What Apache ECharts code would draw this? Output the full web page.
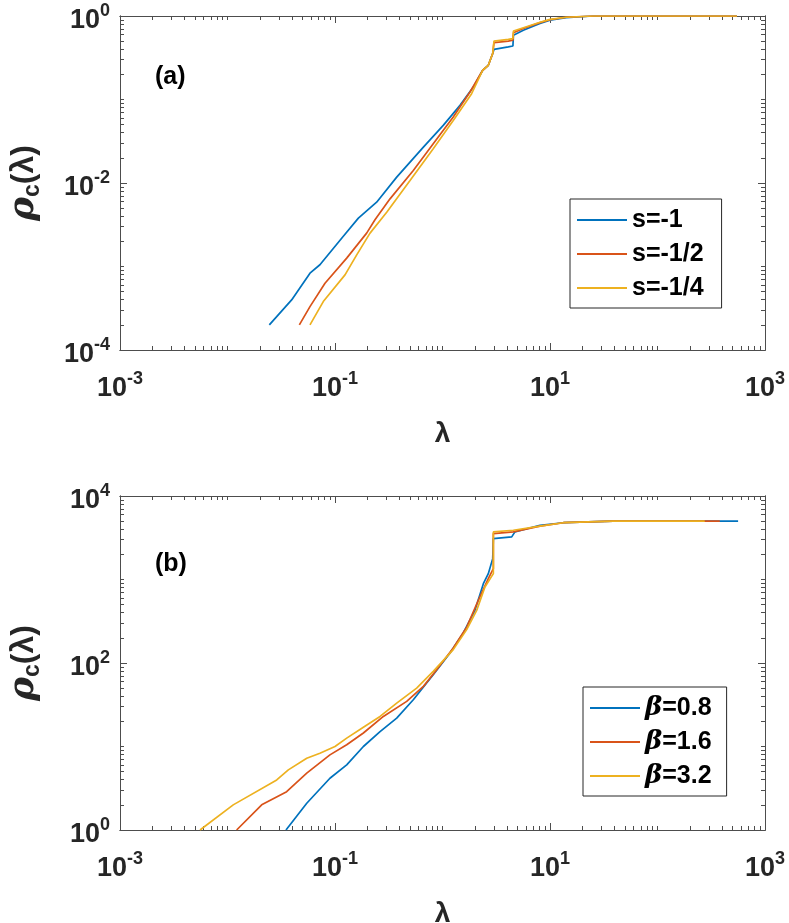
<!DOCTYPE html>
<html>
<head>
<meta charset="UTF-8">
<title>rho_c(lambda)</title>
<script src="https://cdn.jsdelivr.net/npm/echarts@6/dist/echarts.min.js"></script>
<style>
  html, body { margin: 0; padding: 0; background: #fff; }
  #chart { width: 789px; height: 923px; }
</style>
</head>
<body>
<div id="chart"></div>
<script>
// panel (a), s = -1, -1/2, -1/4
var lamA1 = [0.0245, 0.0395, 0.0585, 0.0724, 0.119, 0.165, 0.244, 0.375, 0.664, 1.016, 1.455, 1.936, 2.366, 2.667, 2.931, 2.985, 3.013, 4.093, 4.519, 4.571, 5.649, 8.072, 10, 14.13, 25.1, 549.5];
var rhoA1 = [2.0e-4, 3.98e-4, 8.32e-4, 1.05e-3, 2.29e-3, 3.8e-3, 5.89e-3, 1.175e-2, 2.69e-2, 4.9e-2, 8.51e-2, 0.141, 0.224, 0.257, 0.355, 0.355, 0.398, 0.427, 0.437, 0.589, 0.676, 0.813, 0.891, 0.955, 1, 1];
var lamA2 = [0.0466, 0.0585, 0.0807, 0.1285, 0.197, 0.2355, 0.325, 0.535, 0.820, 1.259, 1.803, 2.366, 2.667, 2.931, 2.985, 3.013, 4.093, 4.519, 4.571, 5.649, 8.072, 10, 14.13, 25.1, 549.5];
var rhoA2 = [2.0e-4, 3.31e-4, 6.31e-4, 1.26e-3, 2.51e-3, 3.63e-3, 6.46e-3, 1.41e-2, 2.95e-2, 6.17e-2, 0.123, 0.224, 0.257, 0.355, 0.355, 0.479, 0.501, 0.513, 0.631, 0.708, 0.832, 0.902, 0.966, 1, 1];
var lamA3 = [0.0585, 0.0778, 0.1239, 0.1592, 0.2118, 0.3027, 0.4989, 0.820, 1.259, 1.866, 2.366, 2.667, 2.931, 2.985, 3.013, 4.093, 4.519, 4.571, 5.649, 8.072, 10, 14.13, 25.1, 549.5];
var rhoA3 = [2.0e-4, 3.8e-4, 7.94e-4, 1.38e-3, 2.51e-3, 4.47e-3, 1.07e-2, 2.57e-2, 5.62e-2, 0.1175, 0.224, 0.257, 0.355, 0.355, 0.501, 0.525, 0.537, 0.661, 0.724, 0.841, 0.912, 0.966, 1, 1];

// panel (b), beta = 0.8, 1.6, 3.2
var lamB1 = [0.035, 0.0546, 0.0897, 0.1285, 0.1837, 0.2624, 0.375, 0.535, 0.820, 1.175, 1.560, 2.004, 2.399, 2.667, 2.931, 2.972, 2.972, 4.406, 4.721, 8.072, 13.3, 38.8, 562];
var rhoB1 = [1, 2.09, 4.17, 6.03, 10, 15.1, 21.9, 36.3, 72.4, 131.8, 229, 427, 891, 1175, 1778, 1778, 3090, 3236, 3715, 4467, 4786, 5012, 5012];
var lamB2 = [0.01216, 0.0208, 0.0355, 0.0546, 0.0897, 0.1285, 0.1837, 0.2818, 0.4645, 0.664, 0.883, 1.259, 1.679, 2.153, 2.667, 2.972, 2.972, 4.560, 8.072, 13.3, 38.8, 380];
var rhoB2 = [1, 2.0, 2.88, 4.79, 7.94, 10.5, 14.5, 22.9, 34.7, 52.5, 83.2, 151, 269, 562, 1023, 1349, 3548, 3715, 4365, 4786, 5012, 5012];
var lamB3 = [0.00555, 0.0113, 0.0287, 0.0368, 0.0546, 0.0724, 0.1, 0.1285, 0.1837, 0.2624, 0.375, 0.575, 0.820, 1.259, 1.679, 2.080, 2.483, 2.972, 2.972, 4.560, 8.072, 13.3, 38.8, 275];
var rhoB3 = [1, 2.0, 3.98, 5.25, 7.24, 8.32, 10, 12.6, 17.0, 22.9, 33.1, 50.1, 79.4, 144.5, 251, 427, 813, 1175, 3715, 3890, 4365, 4786, 5012, 5012];

var namesA = ['s=-1', 's=-1/2', 's=-1/4'];
var namesB = ['β=0.8', 'β=1.6', 'β=3.2'];
var colors = ['#0072BD', '#D95319', '#EDB120'];

// labelled ticks
var xLabelVals = [1e-3, 1e-1, 1e1, 1e3];
var yLabelValsA = [1e-4, 1e-2, 1];
var yLabelValsB = [1, 1e2, 1e4];

var FONT = 'Liberation Sans, Arial, Helvetica, sans-serif';
var AX = '#4d4d4d';
var TXT = '#262626';

function pairs(x, y) {
  return x.map(function (v, i) { return [v, y[i]]; });
}

// short ticks at k*10^e that carry no label
function minorTicks(lo, hi, skip) {
  var out = [];
  for (var e = lo; e <= hi; e++) {
    for (var k = 1; k <= 9; k++) {
      if (e === hi && k > 1) break;
      var v = k * Math.pow(10, e);
      var isMajor = skip.some(function (s) { return Math.abs(Math.log10(s) - Math.log10(v)) < 1e-9; });
      if (!isMajor) out.push(v);
    }
  }
  return out;
}

var richLab = {
  b: { fontSize: 27, fontWeight: 'bold', color: TXT, fontFamily: FONT, lineHeight: 38 },
  s: { fontSize: 18, fontWeight: 'bold', color: TXT, fontFamily: FONT, lineHeight: 17, verticalAlign: 'top' }
};
function powLabel(v) {
  var e = Math.round(Math.log10(v));
  return '{b|10}{s|' + e + '}';
}

function makeX(g) {
  var minor = minorTicks(-3, 3, xLabelVals);
  var common = function (pos, major) {
    return {
      type: 'log', logBase: 10, min: 1e-3, max: 1e3, gridIndex: g, position: pos,
      axisLine: { show: true, onZero: false, lineStyle: { color: AX, width: 1 } },
      splitLine: { show: false },
      axisTick: { show: true, inside: true, length: major ? 7 : 4, customValues: major ? xLabelVals : minor, lineStyle: { color: AX, width: 1 } },
      axisLabel: { show: false }
    };
  };
  var main = common('bottom', true);
  main.axisLabel = { show: true, customValues: xLabelVals, formatter: powLabel, rich: richLab, margin: 20 };
  main.name = 'λ';
  main.nameLocation = 'middle';
  main.nameGap = 70;
  main.nameTextStyle = { fontSize: 28, fontWeight: 'bold', color: TXT, fontFamily: FONT };
  return [main, common('bottom', false), common('top', true), common('top', false)];
}

function makeY(g, lo, hi, labels) {
  var minor = minorTicks(lo, hi, labels);
  var common = function (pos, major) {
    return {
      type: 'log', logBase: 10, min: Math.pow(10, lo), max: Math.pow(10, hi), gridIndex: g, position: pos,
      axisLine: { show: true, onZero: false, lineStyle: { color: AX, width: 1 } },
      splitLine: { show: false },
      axisTick: { show: true, inside: true, length: major ? 7 : 4, customValues: major ? labels : minor, lineStyle: { color: AX, width: 1 } },
      axisLabel: { show: false }
    };
  };
  var main = common('left', true);
  main.axisLabel = { show: true, customValues: labels, formatter: powLabel, rich: richLab, margin: 10, padding: [10, 0, 0, 0] };
  main.name = '{r|ρ}{c|c}{p|(λ)}';
  main.nameLocation = 'middle';
  main.nameGap = 76;
  main.nameRotate = 90;
  main.nameTextStyle = {
    rich: {
      r: { fontSize: 36, fontStyle: 'italic', fontWeight: 'bold', color: TXT, fontFamily: 'DejaVu Serif, serif', lineHeight: 40 },
      c: { fontSize: 23, fontWeight: 'bold', color: TXT, fontFamily: FONT, lineHeight: 22, verticalAlign: 'bottom' },
      p: { fontSize: 32, fontWeight: 'bold', color: TXT, fontFamily: FONT, lineHeight: 40 }
    }
  };
  return [main, common('left', false), common('right', true), common('right', false)];
}

function lineSeries(name, data, color, g) {
  return {
    name: name, type: 'line', data: data,
    xAxisIndex: g * 4, yAxisIndex: g * 4,
    symbol: 'none', showSymbol: false,
    lineStyle: { color: color, width: 1.7 },
    itemStyle: { color: color },
    clip: true
  };
}

var legendBase = {
  orient: 'vertical', itemGap: 8, itemWidth: 50, itemHeight: 2, icon: 'rect',
  borderColor: '#262626', borderWidth: 1, backgroundColor: '#fff',
  textStyle: { fontSize: 25, fontWeight: 'bold', color: '#000', fontFamily: FONT, lineHeight: 26 }
};

var option = {
  animation: false,
  backgroundColor: '#fff',
  grid: [
    { left: 120, width: 645, top: 16, height: 334, outerBoundsMode: 'none', containLabel: false },
    { left: 120, width: 645, top: 496, height: 334, outerBoundsMode: 'none', containLabel: false }
  ],
  xAxis: makeX(0).concat(makeX(1)),
  yAxis: makeY(0, -4, 0, yLabelValsA).concat(makeY(1, 0, 4, yLabelValsB)),
  legend: [
    Object.assign({}, legendBase, {
      data: namesA, left: 570, top: 199, padding: [8, 18, 7, 7]
    }),
    Object.assign({}, legendBase, {
      data: namesB, left: 583, top: 687, padding: [8, 15, 7, 7],
      formatter: function (n) { return '{g|β}{t|' + n.slice(1) + '}'; },
      textStyle: {
        fontSize: 25, fontWeight: 'bold', color: '#000', fontFamily: FONT, lineHeight: 26,
        rich: {
          g: { fontSize: 26, fontStyle: 'italic', fontWeight: 'bold', color: '#000', fontFamily: 'DejaVu Serif, serif', lineHeight: 26 },
          t: { fontSize: 25, fontWeight: 'bold', color: '#000', fontFamily: FONT, lineHeight: 26 }
        }
      }
    })
  ],
  graphic: [
    { type: 'text', left: 155, top: 65, style: { text: '(a)', font: 'bold 25px ' + FONT, fill: '#000' } },
    { type: 'text', left: 155, top: 552, style: { text: '(b)', font: 'bold 25px ' + FONT, fill: '#000' } }
  ],
  series: [
    lineSeries(namesA[0], pairs(lamA1, rhoA1), colors[0], 0),
    lineSeries(namesA[1], pairs(lamA2, rhoA2), colors[1], 0),
    lineSeries(namesA[2], pairs(lamA3, rhoA3), colors[2], 0),
    lineSeries(namesB[0], pairs(lamB1, rhoB1), colors[0], 1),
    lineSeries(namesB[1], pairs(lamB2, rhoB2), colors[1], 1),
    lineSeries(namesB[2], pairs(lamB3, rhoB3), colors[2], 1)
  ]
};

var chart = echarts.init(document.getElementById('chart'), null, { renderer: 'canvas' });
chart.setOption(option);
</script>
</body>
</html>
